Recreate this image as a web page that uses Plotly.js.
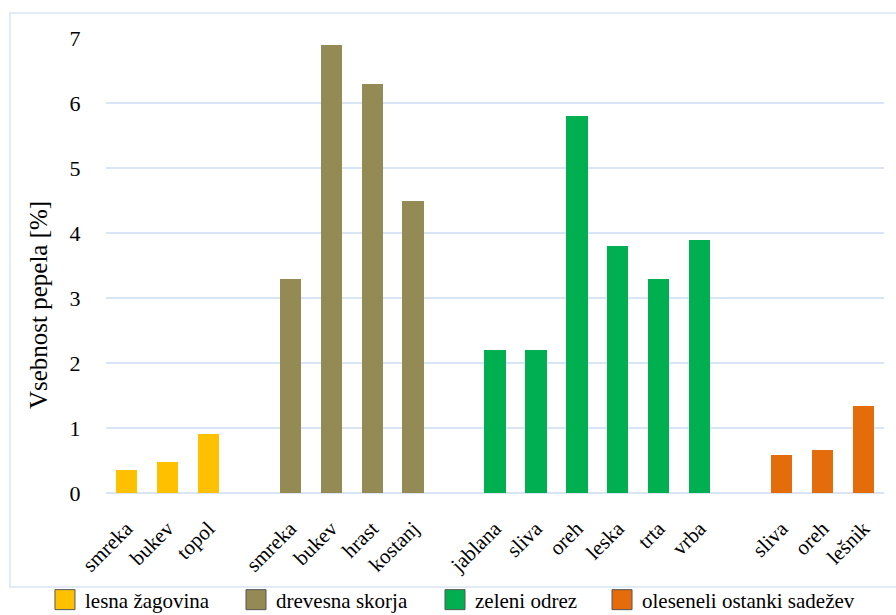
<!DOCTYPE html>
<html>
<head>
<meta charset="utf-8">
<script src="https://cdn.plot.ly/plotly-3.0.1.min.js"></script>
<style>html,body{margin:0;padding:0;background:#fff;}#chart{width:896px;height:615px;}</style>
</head>
<body>
<div id="chart"></div>
<script>
// Data
const groupNames = ["lesna žagovina", "drevesna skorja", "zeleni odrez", "oleseneli ostanki sadežev"];
const groupColors = ["#FFC000", "#948A54", "#00B050", "#E46C0A"];
const catsZagovina = ["smreka", "bukev", "topol"];
const valsZagovina = [0.35, 0.47, 0.91];
const catsSkorja = ["smreka", "bukev", "hrast", "kostanj"];
const valsSkorja = [3.3, 6.9, 6.3, 4.5];
const catsOdrez = ["jablana", "sliva", "oreh", "leska", "trta", "vrba"];
const valsOdrez = [2.2, 2.2, 5.8, 3.8, 3.3, 3.9];
const catsSadezi = ["sliva", "oreh", "lešnik"];
const valsSadezi = [0.58, 0.66, 1.34];
const yTicks = [0, 1, 2, 3, 4, 5, 6, 7];
const yTitle = "Vsebnost pepela [%]";

const groups = [
  [catsZagovina, valsZagovina],
  [catsSkorja, valsSkorja],
  [catsOdrez, valsOdrez],
  [catsSadezi, valsSadezi]
];
const legendIds = ["legend", "legend2", "legend3", "legend4"];
const legendX = [0.0502, 0.2634, 0.4855, 0.6719];

const traces = [];
const tickvals = [];
const ticktext = [];
let pos = 0;
groups.forEach((g, gi) => {
  const xs = [];
  g[0].forEach((c) => { xs.push(pos); tickvals.push(pos); ticktext.push(c); pos++; });
  pos++; // gap slot between groups
  traces.push({
    type: "bar",
    x: xs,
    y: g[1],
    name: groupNames[gi],
    legend: legendIds[gi],
    width: 0.52,
    marker: { color: groupColors[gi], line: { width: 0 } },
    hoverinfo: "y"
  });
});
const nSlots = pos - 1;

const font = '"Liberation Serif", "Times New Roman", serif';
const layout = {
  width: 896, height: 615,
  margin: { l: 106, r: 12, t: 38, b: 122 },
  paper_bgcolor: "#ffffff",
  plot_bgcolor: "#ffffff",
  font: { family: font, color: "#000", size: 21 },
  bargap: 0,
  showlegend: true,
  xaxis: {
    range: [-0.5, nSlots - 0.5],
    tickmode: "array", tickvals: tickvals, ticktext: ticktext,
    tickangle: -45, showgrid: false, zeroline: false, showline: false,
    ticks: "outside", ticklen: 14, tickcolor: "rgba(0,0,0,0)",
    tickfont: { family: font, size: 21, color: "#000" },
    automargin: false,
    fixedrange: true
  },
  yaxis: {
    range: [0, 7],
    tickmode: "array", tickvals: yTicks,
    showgrid: true, gridcolor: "#D9E5F4", gridwidth: 1.5,
    zeroline: true, zerolinecolor: "#D9E5F4", zerolinewidth: 1.5,
    showline: false,
    ticks: "outside", ticklen: 20, tickcolor: "rgba(0,0,0,0)",
    tickfont: { family: font, size: 22, color: "#000" },
    automargin: false,
    fixedrange: true
  },
  annotations: [{
    text: yTitle, textangle: -90, showarrow: false,
    xref: "paper", yref: "paper", x: -0.0874, y: 0.413,
    xanchor: "center", yanchor: "middle",
    font: { family: font, size: 25, color: "#000" }
  }],
  shapes: [{
    type: "rect", xref: "paper", yref: "paper", layer: "below",
    x0: -0.1234, x1: 1.03, y0: -0.2066, y1: 1.0549,
    line: { color: "#D9E5F4", width: 1.5 }, fillcolor: "rgba(0,0,0,0)"
  }]
};
legendIds.forEach((id, i) => {
  layout[id] = {
    orientation: "h", xref: "container", yref: "container",
    x: legendX[i], xanchor: "left", y: 0.0244, yanchor: "middle",
    font: { family: font, size: 21, color: "#000" },
    bgcolor: "rgba(0,0,0,0)",
    itemclick: false, itemdoubleclick: false
  };
});

Plotly.newPlot("chart", traces, layout, { displayModeBar: false, staticPlot: true }).then(() => {
  document.querySelectorAll("#chart .legendpoints path").forEach((p) => {
    p.setAttribute("d", "M10,10H-10V-10H10Z");
    p.style.stroke = "#555";
    p.style.strokeWidth = "1px";
  });
});
</script>
</body>
</html>
